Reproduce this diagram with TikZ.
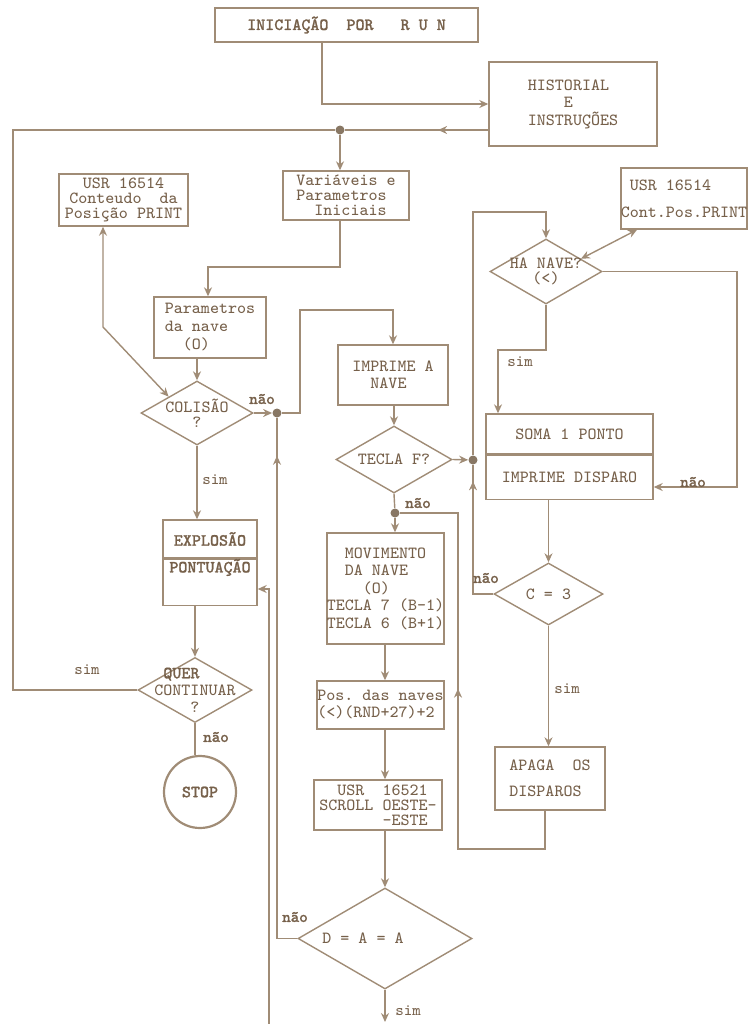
\documentclass[tikz,border=0pt]{standalone}
\usepackage{fontspec}
\setmonofont[AutoFakeBold=1.5]{Latin Modern Mono}
\usetikzlibrary{arrows.meta, shapes.geometric, decorations.markings}
\definecolor{tinta}{RGB}{160,140,118}
\definecolor{texto}{RGB}{118,96,74}
\newcommand{\recuo}[1]{\hspace*{#1\fontcharwd\font`M}}
\tikzset{
    linha/.style={draw=tinta, line width=0.7pt},
    seta/.style={linha, -{Stealth[length=4.5pt, width=4pt]}},
    dupla/.style={linha, {Stealth[length=4.5pt, width=4pt]}-{Stealth[length=4.5pt, width=4pt]}},
    meio/.style={linha, postaction={decorate}, decoration={markings, mark=at position #1 with {\arrow{Stealth[length=4.5pt, width=4pt]}}}},
    caixa/.style={draw=tinta, line width=0.7pt, text=texto, inner sep=0pt, font=\ttfamily\fontsize{8.5}{#1}\selectfont},
    caixa/.default=8pt,
    losango/.style={diamond, draw=tinta, line width=0.7pt, inner sep=0pt},
    rotulo/.style={text=texto, inner sep=0pt, align=center, font=\ttfamily\fontsize{8.5}{#1}\selectfont},
    rotulo/.default=8pt,
    nota/.style={text=texto, inner sep=0pt, font=\ttfamily\fontsize{8}{8}\selectfont},
    ponto/.style={circle, fill=tinta!85!black, inner sep=0pt, minimum size=4.5pt},
}

\begin{document}
\begin{tikzpicture}[x=0.5pt, y=-0.5pt]
\useasboundingbox (0,0) rectangle (748,1024);
% inicio
\node[caixa, minimum width=131.5pt, minimum height=17pt] (inicio) at (346.5,25) {\bfseries INICIAÇÃO~~POR~~~R~U~N};
\node[caixa=8.75pt, minimum width=84pt, minimum height=42pt, align=left] (hist) at (573,104) {HISTORIAL\\\recuo{4}E\\INSTRUÇÕES};
\node[ponto] (pinicio) at (340,130) {};
\node[caixa=7.5pt, minimum width=63pt, minimum height=24.5pt, align=left] (var) at (346,195.5) {Variáveis~e\\Parametros\\\recuo{2}Iniciais};
% coluna da esquerda
\node[caixa=7.5pt, minimum width=64.5pt, minimum height=26pt, align=center] (usrcolisao) at (123.5,200) {USR~16514\\Conteudo~~da\\Posição~PRINT};
\node[caixa=9pt, minimum width=56pt, minimum height=30.5pt, align=left] (parnave) at (210,327.5) {Parametros\\da~nave\\\recuo{2}(O)};
\node[losango, minimum width=56pt, minimum height=32pt, label={[rotulo=7.5pt]center:COLISÃO\\?}] (colisao) at (197,413) {};
\node[ponto] (pcolisao) at (277,413) {};
\node[caixa, minimum width=47pt, minimum height=19pt] (explosao) at (210,539) {\bfseries EXPLOSÃO};
\node[caixa, minimum width=47pt, text height=6.5pt, text depth=16.5pt, anchor=north] (pontuacao) at (explosao.south) {\bfseries PONTUAÇÃO};
\node[losango, minimum width=57pt, minimum height=32.5pt, label={[rotulo=8.5pt, align=left]center:\bfseries\recuo{1}QUER\\CONTINUAR\\\recuo{4}?}] (quer) at (195,690) {};
\node[circle, draw=tinta, line width=1.1pt, minimum size=36pt, inner sep=0pt, text=texto, font=\ttfamily\bfseries\fontsize{8.5}{8}\selectfont] (stop) at (200,792) {STOP};
% coluna do meio
\node[caixa=8.5pt, minimum width=55pt, minimum height=30pt, align=left] (imprime) at (393,375) {IMPRIME~A\\\recuo{2}NAVE};
\node[losango, minimum width=58pt, minimum height=33.5pt, label={[rotulo]center:TECLA~F?}] (tecla) at (394,459.5) {};
\node[ponto] (ptecla) at (473,460) {};
\node[ponto] (pmov) at (395,513) {};
\node[caixa=8.75pt, minimum width=56.5pt, minimum height=55.5pt, align=left] (movimento) at (385.5,588.5) {\recuo{2}MOVIMENTO\\\recuo{2}DA~NAVE\\\recuo{4}(O)\\TECLA~7~(B-1)\\TECLA~6~(B+1)};
\node[caixa=8.5pt, minimum width=63.5pt, minimum height=24pt, align=left] (posnaves) at (380.5,705) {Pos.~das~naves\\(<)(RND+27)+2};
\node[caixa=7.5pt, minimum width=64pt, minimum height=25pt, align=left] (scroll) at (378,805) {\recuo{2}USR~~16521\\SCROLL~OESTE-\\\recuo{7}-ESTE};
\node[losango, minimum width=87pt, minimum height=50.5pt, label={[rotulo, xshift=-11pt]center:D~=~A~=~A}] (dtest) at (385,938.5) {};
\coordinate (fimsim) at (385,1022);
\coordinate (basepont) at (269,1024);
% coluna da direita
\node[caixa=13.5pt, minimum width=63pt, minimum height=30.5pt, align=left] (usrdisparo) at (684,198.5) {\recuo{1}USR~16514\\Cont.Pos.PRINT};
\node[losango, minimum width=56pt, minimum height=32.5pt, label={[rotulo=7.5pt]center:HA~NAVE?\\(<)}] (ha) at (546,271.5) {};
\node[caixa, minimum width=83.5pt, minimum height=20pt] (soma) at (569.5,434) {SOMA~1~PONTO};
\node[caixa, minimum width=83.5pt, minimum height=22pt, anchor=north] (disparo) at (soma.south) {IMPRIME~DISPARO};
\node[losango, minimum width=54.5pt, minimum height=31pt, label={[rotulo]center:C~=~3}] (c3) at (548.5,594) {};
\node[caixa=13pt, minimum width=55pt, minimum height=31.5pt, align=left] (apaga) at (550,778.5) {APAGA~~OS\\DISPAROS};

% ligacoes
\draw[seta] (inicio.south -| 322,0) |- (hist.west |- 0,104);
\draw[meio=0.35] (hist.west |- 0,130) -- (pinicio);
\draw[seta] (pinicio) -- (pinicio |- var.north);
\draw[linha] (quer.west) -- (13,690) -- (13,130) -- (pinicio);
\draw[seta] (var.south -| pinicio) |- (208,267) -- (208,0 |- parnave.north);
\draw[seta] (parnave.south -| colisao) -- (colisao.north);
\draw[dupla] (usrcolisao.south -| 103,0) -- (103,327) -- (colisao.north west);
\draw[seta] (colisao.east) -- (pcolisao);
\draw[seta] (pcolisao) -| (300,310) -| (imprime.north);
\draw[seta] (colisao.south) -- (colisao.south |- explosao.north);
\draw[seta] (basepont) |- (pontuacao.east |- 0,589);
\draw[seta] (pontuacao.south -| quer) -- (quer.north);
\draw[linha] (quer.south) -- (quer.south |- stop.north);
\draw[seta] (imprime.south -| tecla) -- (tecla.north);
\draw[seta] (tecla.east) -- (ptecla);
\draw[linha] (tecla.south) -- (pmov);
\draw[seta] (pmov) -- (pmov |- movimento.north);
\draw[seta] (movimento.south -| dtest) -- (posnaves.north -| dtest);
\draw[seta] (posnaves.south -| dtest) -- (scroll.north -| dtest);
\draw[seta] (scroll.south -| dtest) -- (dtest.north);
\draw[meio=0.93] (dtest.west) -| (pcolisao);
\draw[seta] (dtest.south) -- (fimsim);
\draw[meio=0.89] (c3.west) -| (ptecla);
\draw[seta] (ptecla) |- (ha.north |- 0,212) -- (ha.north);
\draw[dupla] ([xshift=8.5pt]usrdisparo.south west) -- (ha.20);
\draw[seta] (ha.east) -| (737,487) -- (disparo.east |- 0,487);
\draw[seta] (ha.south) |- (498,350) -- (soma.north -| 498,0);
\draw[seta] (disparo.south -| c3) -- (c3.north);
\draw[seta] (c3.south) -- (c3.south |- apaga.north);
\draw[meio=0.55] (apaga.south -| 545,0) |- (458,849) |- (pmov);

% sim / nao
\node[nota] (lnaocol) at (262,399) {\bfseries não};
\node[nota] (lsimcol) at (215,480) {sim};
\node[nota] (lsimquer) at (87,670) {sim};
\node[nota] (lnaoquer) at (216,737) {\bfseries não};
\node[nota] (lnaotecla) at (418,503) {\bfseries não};
\node[nota] (lnaoc3) at (486,578) {\bfseries não};
\node[nota] (lsimha) at (520,362) {sim};
\node[nota] (lnaoha) at (693,482) {\bfseries não};
\node[nota] (lsimc3) at (567,689) {sim};
\node[nota] (lnaod) at (295,917) {\bfseries não};
\node[nota] (lsimd) at (408,1011) {sim};
\end{tikzpicture}
\end{document}
